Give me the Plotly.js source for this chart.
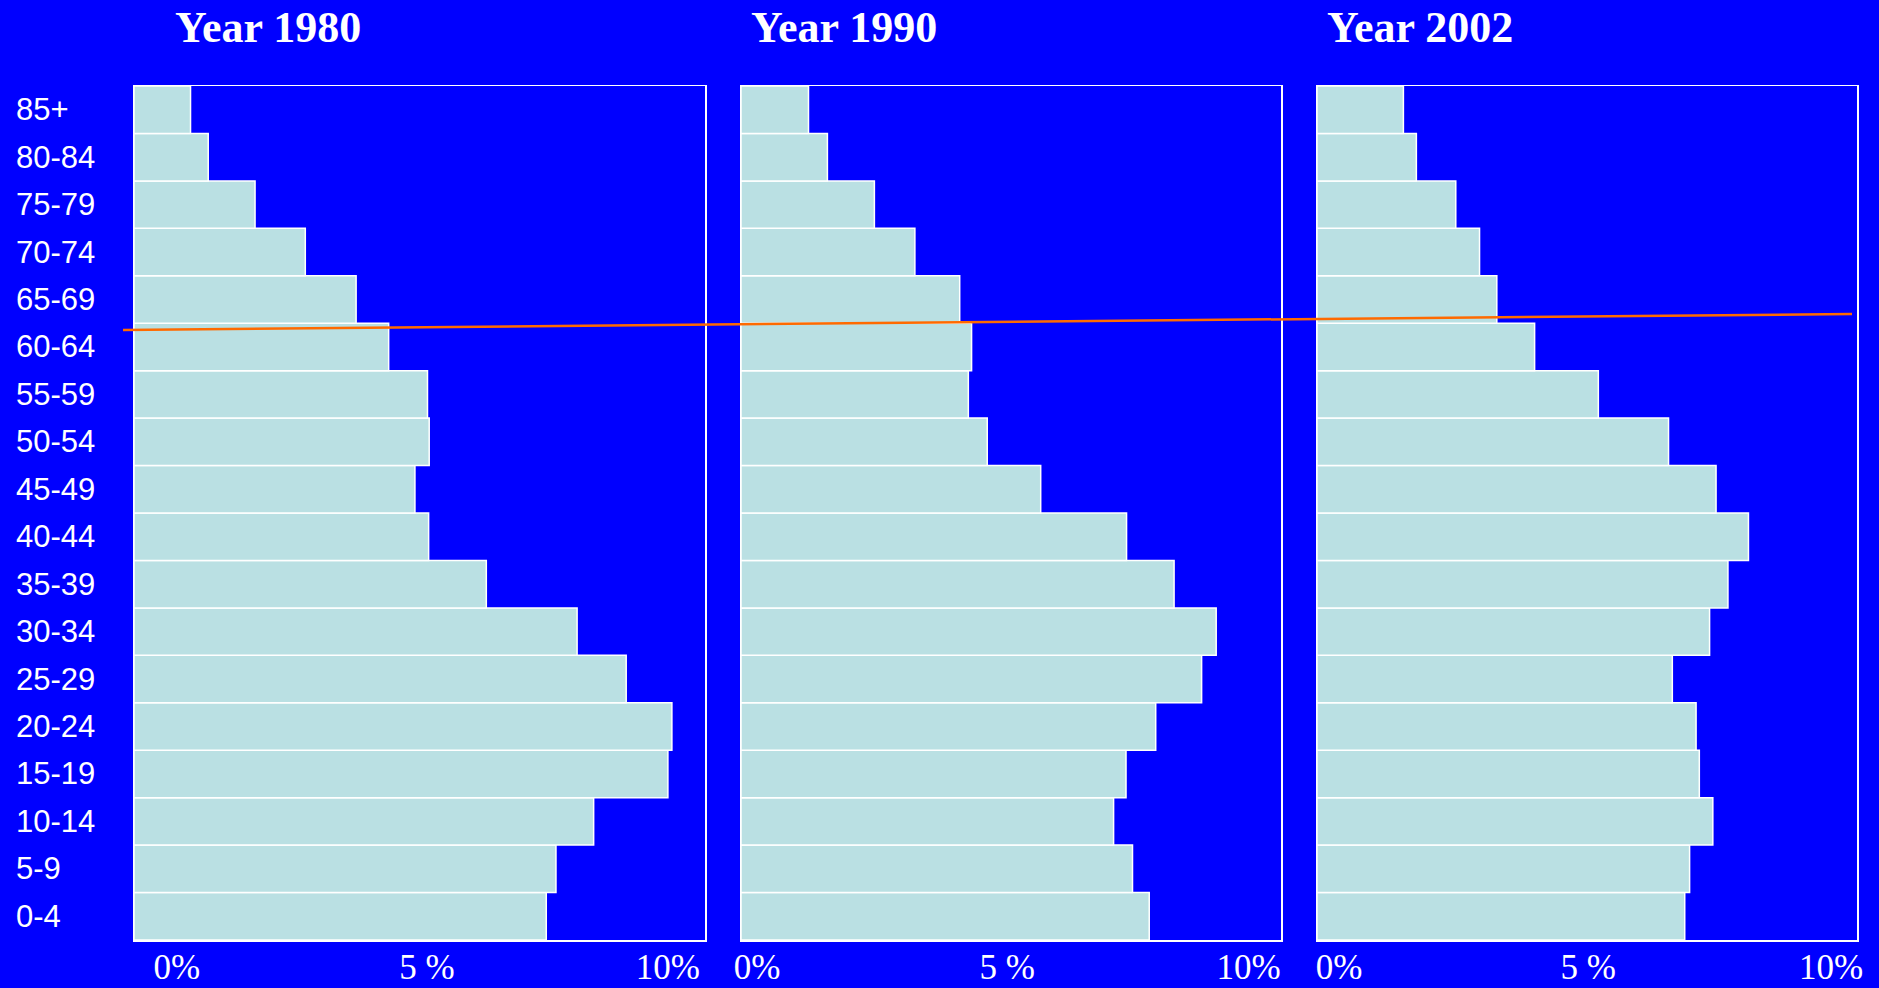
<!DOCTYPE html>
<html>
<head>
<meta charset="utf-8">
<script src="https://cdn.plot.ly/plotly-3.0.1.min.js"></script>
<style>
  html, body { margin: 0; padding: 0; background: #0000ff; }
  #chart { width: 1879px; height: 988px; }
</style>
</head>
<body>
<div id="chart"></div>
<script>
// ---- data ----
const ageGroups = ["0-4","5-9","10-14","15-19","20-24","25-29","30-34","35-39","40-44",
                   "45-49","50-54","55-59","60-64","65-69","70-74","75-79","80-84","85+"];
const pct1980 = [7.22, 7.39, 8.05, 9.35, 9.42, 8.62, 7.76, 6.17, 5.16,
                 4.92, 5.17, 5.14, 4.46, 3.89, 3.00, 2.12, 1.30, 0.99];
const pct1990 = [7.56, 7.25, 6.90, 7.13, 7.68, 8.53, 8.80, 8.02, 7.14,
                 5.55, 4.56, 4.21, 4.27, 4.05, 3.22, 2.47, 1.60, 1.25];
const pct2002 = [6.81, 6.90, 7.33, 7.08, 7.02, 6.58, 7.27, 7.61, 7.99,
                 7.39, 6.51, 5.21, 4.03, 3.33, 3.01, 2.57, 1.84, 1.60];
const panelTitles = ["Year 1980", "Year 1990", "Year 2002"];
const xTickText = ["0%", "5 %", "10%"];

// ---- layout helpers ----
const W = 1879, H = 988;
const px = v => v / W;
const py = v => 1 - v / H;

const series = [pct1980, pct1990, pct2002];
const xDomains = [[px(134), px(705)], [px(741), px(1281)], [px(1317), px(1857)]];
const yDomain = [py(940), py(86)];
const tickPos = [[0.75, 5.13, 9.35], [0.3, 4.93, 9.4], [0.41, 5.02, 9.52]];
const titleLeft = [173, 749, 1325];

const traces = series.map((vals, i) => ({
  type: "bar",
  orientation: "h",
  y: ageGroups,
  x: vals,
  xaxis: i === 0 ? "x" : "x" + (i + 1),
  yaxis: i === 0 ? "y" : "y" + (i + 1),
  marker: { color: "#bae0e3", line: { color: "#ffffff", width: 1.5 } },
  hoverinfo: "skip",
  showlegend: false
}));

const layout = {
  width: W, height: H,
  margin: { l: 0, r: 0, t: 0, b: 0, pad: 0 },
  paper_bgcolor: "#0000ff",
  plot_bgcolor: "#0000ff",
  bargap: 0,
  showlegend: false,
  annotations: [],
  shapes: [{
    type: "line", xref: "paper", yref: "paper",
    x0: px(123), y0: py(330), x1: px(1852), y1: py(314),
    line: { color: "#ff6a00", width: 2.5 }, layer: "above"
  }]
};

for (let i = 0; i < 3; i++) {
  const s = i === 0 ? "" : String(i + 1);
  layout["xaxis" + s] = {
    domain: xDomains[i], anchor: "y" + s,
    range: [0, 10], fixedrange: true,
    showgrid: false, zeroline: false,
    showline: true, mirror: true, linecolor: "#ffffff", linewidth: 1.5,
    ticks: "", tickvals: tickPos[i], ticktext: xTickText,
    ticklabelstandoff: -5,
    tickfont: { family: "Liberation Serif, Times New Roman, serif", size: 35, color: "#ffffff" }
  };
  layout["yaxis" + s] = {
    domain: yDomain, anchor: "x" + s,
    type: "category", categoryorder: "array", categoryarray: ageGroups,
    range: [-0.5, ageGroups.length - 0.5], fixedrange: true,
    showgrid: false, zeroline: false,
    showline: true, mirror: true, linecolor: "#ffffff", linewidth: 1.5,
    ticks: "", showticklabels: false
  };
  layout.annotations.push({
    text: "<b>" + panelTitles[i] + "</b>",
    xref: "paper", yref: "paper",
    x: px(titleLeft[i]), y: py(27), xanchor: "left", yanchor: "middle",
    showarrow: false,
    font: { family: "Liberation Serif, Times New Roman, serif", size: 44, color: "#ffffff" }
  });
}

// left-aligned age group labels
ageGroups.forEach(g => {
  layout.annotations.push({
    text: g, xref: "paper", yref: "y",
    x: px(14), y: g, xanchor: "left", yanchor: "middle",
    showarrow: false,
    font: { family: "Liberation Sans, Arial, sans-serif", size: 31, color: "#ffffff" }
  });
});

Plotly.newPlot("chart", traces, layout, { displayModeBar: false, staticPlot: true });
</script>
</body>
</html>
